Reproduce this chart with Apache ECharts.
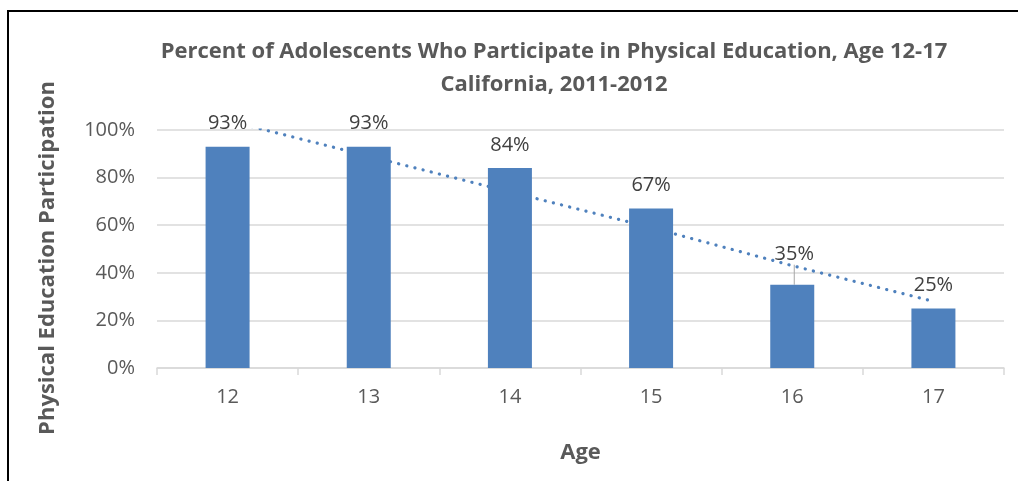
<!DOCTYPE html>
<html>
<head>
<meta charset="utf-8">
<script src="https://cdn.jsdelivr.net/npm/echarts@6/dist/echarts.min.js"></script>
<style>
  html, body { margin: 0; padding: 0; background: #fff; }
  #chart { width: 1018px; height: 481px; }
</style>
</head>
<body>
<div id="chart"></div>
<script>
const ages = ['12', '13', '14', '15', '16', '17'];
const participation = [93, 93, 84, 67, 35, 25];
// linear trendline (clipped at 100%)
const trend = [104, 89, 74, 59, 43, 28];

const font = '"Open Sans", sans-serif';
const chart = echarts.init(document.getElementById('chart'));

chart.setOption({
  animation: false,
  title: {
    text: 'Percent of Adolescents Who Participate in Physical Education, Age 12-17\nCalifornia, 2011-2012',
    left: 549,
    top: 30,
    textAlign: 'center',
    textStyle: {
      fontFamily: font,
      fontSize: 22,
      fontWeight: 'bold',
      color: '#595959',
      lineHeight: 33
    }
  },
  graphic: [
    { type: 'line', shape: { x1: 8, y1: 11, x2: 8, y2: 481 }, style: { stroke: '#000', lineWidth: 2 } },
    { type: 'line', shape: { x1: 7, y1: 11, x2: 1018, y2: 11 }, style: { stroke: '#000', lineWidth: 2 } }
  ],
  grid: { left: 157, right: 14, top: 130, bottom: 113 },
  xAxis: {
    type: 'category',
    data: ages,
    name: 'Age',
    nameLocation: 'middle',
    nameGap: 74,
    nameTextStyle: { fontFamily: font, fontSize: 22, fontWeight: 'bold', color: '#595959' },
    axisLine: { lineStyle: { color: '#d9d9d9', width: 1.5 } },
    axisTick: { show: true, length: 7, lineStyle: { color: '#d9d9d9', width: 1.5 } },
    axisLabel: { fontFamily: font, fontSize: 20, color: '#595959', margin: 19 }
  },
  yAxis: {
    type: 'value',
    min: 0,
    max: 100,
    interval: 20,
    name: 'Physical Education Participation',
    nameLocation: 'middle',
    nameGap: 98,
    nameTextStyle: { fontFamily: font, fontSize: 22, fontWeight: 'bold', color: '#595959', padding: [0, 18, 0, 0] },
    axisLine: { show: false },
    axisTick: { show: false },
    axisLabel: { fontFamily: font, fontSize: 20, color: '#595959', margin: 22, formatter: '{value}%' },
    splitLine: { lineStyle: { color: '#d9d9d9', width: 1.5 } }
  },
  series: [
    {
      type: 'line',
      data: trend,
      clip: true,
      symbol: 'none',
      silent: true,
      z: 1,
      lineStyle: { color: '#4f81bd', width: 3.2, type: [0.1, 8.3], cap: 'round' }
    },
    {
      type: 'bar',
      data: participation.map((v, i) => i === 4
        ? { value: v, labelLine: { show: true, lineStyle: { color: '#a6a6a6', width: 1 } } }
        : v),
      barWidth: 44,
      z: 2,
      itemStyle: { color: '#4f81bd' },
      label: {
        show: true,
        position: 'top',
        distance: 13,
        formatter: '{c}%',
        fontFamily: font,
        fontSize: 20,
        color: '#404040'
      },
      labelLayout: function (params) {
        if (params.dataIndex === 4) return { dy: -7, dx: 2 };
        return {};
      }
    }
  ]
});
</script>
</body>
</html>
